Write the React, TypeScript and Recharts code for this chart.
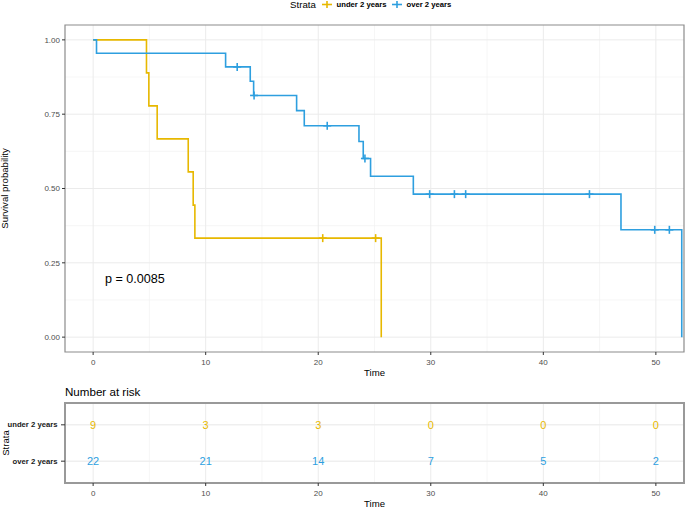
import React from "react";
import {
  ComposedChart,
  ScatterChart,
  Line,
  Scatter,
  XAxis,
  YAxis,
  CartesianGrid,
  ReferenceArea,
} from "recharts";

// Kaplan-Meier steps
const underTimes = [0, 4.74, 4.95, 5.69, 8.45, 8.89, 9.04, 25.6];
const underSurv = [1, 0.889, 0.778, 0.667, 0.556, 0.444, 0.333, 0];
const underCensorTimes = [20.4, 25.1];
const underCensorSurv = [0.333, 0.333];

const overTimes = [0, 0.3, 11.77, 13.96, 14.26, 18.08, 18.76, 23.62, 24.0, 24.65, 28.45, 46.9, 52.3];
const overSurv = [1, 0.955, 0.909, 0.861, 0.813, 0.762, 0.711, 0.658, 0.601, 0.541, 0.481, 0.361, 0];
const overCensorTimes = [12.8, 14.3, 20.8, 24.15, 29.9, 32.1, 33.1, 44.1, 49.9, 51.2];
const overCensorSurv = [0.909, 0.813, 0.711, 0.601, 0.481, 0.481, 0.481, 0.481, 0.361, 0.361];

// number at risk table
const riskTimes = [0, 10, 20, 30, 40, 50];
const riskUnder = [9, 3, 3, 0, 0, 0];
const riskOver = [22, 21, 14, 7, 5, 2];
const strataNames = ["over 2 years", "under 2 years"];

const timeTicks = [0, 10, 20, 30, 40, 50];
const timeMinor = [5, 15, 25, 35, 45];
const survTicks = [0, 0.25, 0.5, 0.75, 1];
const survMinor = [0.125, 0.375, 0.625, 0.875];

const YELLOW = "#E7B800";
const BLUE = "#2E9FDF";
const X_DOMAIN: [number, number] = [-2.5, 52.5];

const toPoints = (ts: number[], ss: number[]) => ts.map((t, i) => ({ t, s: ss[i] }));

const underCurve = toPoints(underTimes, underSurv);
const overCurve = toPoints(overTimes, overSurv);
const underCensor = toPoints(underCensorTimes, underCensorSurv);
const overCensor = toPoints(overCensorTimes, overCensorSurv);

const riskData = [
  ...riskTimes.map((t, i) => ({ t, row: 2, n: riskUnder[i], color: YELLOW })),
  ...riskTimes.map((t, i) => ({ t, row: 1, n: riskOver[i], color: BLUE })),
];

const plusShape = (color: string) => (props: any) => {
  const { cx, cy } = props;
  return (
    <g>
      <line x1={cx - 4} x2={cx + 4} y1={cy} y2={cy} stroke={color} strokeWidth={1.6} />
      <line x1={cx} x2={cx} y1={cy - 4} y2={cy + 4} stroke={color} strokeWidth={1.6} />
    </g>
  );
};

const riskText = (props: any) => {
  const { cx, cy, payload } = props;
  return (
    <text x={cx} y={cy} textAnchor="middle" dominantBaseline="central" fontSize={11} fill={payload.color}>
      {payload.n}
    </text>
  );
};

const strataTick = (props: any) => {
  const { x, y, payload } = props;
  return (
    <text
      x={x}
      y={y}
      textAnchor="end"
      dominantBaseline="central"
      fontSize={7.7}
      fontWeight="bold"
      fill="#1A1A1A"
    >
      {strataNames[payload.value - 1]}
    </text>
  );
};

const tickStyle = { fontSize: 8, fill: "#4D4D4D" };
const titleStyle = { fontSize: 9.6, fill: "#000" };

function LegendKey({ color }: { color: string }) {
  return (
    <svg width={10} height={9} style={{ display: "block" }}>
      <line x1={0} x2={10} y1={4.5} y2={4.5} stroke={color} strokeWidth={1.6} />
      <line x1={5} x2={5} y1={1} y2={8} stroke={color} strokeWidth={1.6} />
    </svg>
  );
}

export default function App() {
  const abs = (left: number, top: number): React.CSSProperties => ({
    position: "absolute",
    left,
    top,
    whiteSpace: "nowrap",
  });
  return (
    <div
      style={{
        position: "absolute",
        left: 0,
        top: 0,
        width: 685,
        height: 507,
        background: "#fff",
        fontFamily: "'Liberation Sans', Arial, sans-serif",
      }}
    >
      {/* legend */}
      <div style={{ ...abs(290, 0), fontSize: 9.7, lineHeight: "9px" }}>Strata</div>
      <div style={abs(322, 0)}>
        <LegendKey color={YELLOW} />
      </div>
      <div style={{ ...abs(336.5, 0), fontSize: 7.7, fontWeight: "bold", lineHeight: "9px" }}>under 2 years</div>
      <div style={abs(392, 0)}>
        <LegendKey color={BLUE} />
      </div>
      <div style={{ ...abs(406.5, 0), fontSize: 7.7, fontWeight: "bold", lineHeight: "9px" }}>over 2 years</div>

      <div style={abs(0, 0)}>
        <ComposedChart width={685} height={380} margin={{ top: 25, right: 1, bottom: 0, left: 0 }}>
          <CartesianGrid
            verticalValues={timeMinor}
            horizontalValues={survMinor}
            stroke="#F0F0F0"
            strokeWidth={0.6}
          />
          <CartesianGrid verticalValues={timeTicks} horizontalValues={survTicks} stroke="#EBEBEB" strokeWidth={1} />
          <XAxis
            dataKey="t"
            type="number"
            domain={X_DOMAIN}
            allowDataOverflow
            ticks={timeTicks}
            height={28}
            tick={tickStyle}
            tickSize={3}
            tickMargin={4}
            tickLine={{ stroke: "#333" }}
            axisLine={false}
            label={{ value: "Time", position: "insideBottom", offset: 4.5, style: titleStyle }}
          />
          <YAxis
            dataKey="s"
            type="number"
            domain={[-0.05, 1.05]}
            allowDataOverflow
            ticks={survTicks}
            tickFormatter={(v: number) => v.toFixed(2)}
            width={65}
            tick={tickStyle}
            tickSize={3}
            tickMargin={2}
            tickLine={{ stroke: "#333" }}
            axisLine={false}
            label={{
              value: "Survival probability",
              angle: -90,
              position: "insideLeft",
              offset: 5,
              style: { ...titleStyle, textAnchor: "middle" },
            }}
          />
          <Line
            data={underCurve}
            dataKey="s"
            type="stepAfter"
            stroke={YELLOW}
            strokeWidth={1.6}
            dot={false}
            isAnimationActive={false}
          />
          <Line
            data={overCurve}
            dataKey="s"
            type="stepAfter"
            stroke={BLUE}
            strokeWidth={1.6}
            dot={false}
            isAnimationActive={false}
          />
          <Scatter data={underCensor} dataKey="s" shape={plusShape(YELLOW)} isAnimationActive={false} />
          <Scatter data={overCensor} dataKey="s" shape={plusShape(BLUE)} isAnimationActive={false} />
          <ReferenceArea
            x1={X_DOMAIN[0]}
            x2={X_DOMAIN[1]}
            y1={-0.05}
            y2={1.05}
            fill="none"
            fillOpacity={0}
            stroke="#8C8C8C"
            strokeWidth={1.2}
          />
        </ComposedChart>
      </div>

      <div style={{ ...abs(105, 271), fontSize: 12.6, lineHeight: "16px", color: "#000" }}>p = 0.0085</div>

      <div style={{ ...abs(65, 385), fontSize: 11.6, lineHeight: "14px", color: "#000" }}>Number at risk</div>

      <div style={abs(0, 380)}>
        <ScatterChart width={685} height={127} margin={{ top: 23, right: 1, bottom: 0, left: 0 }}>
          <CartesianGrid verticalValues={timeMinor} horizontalValues={[]} stroke="#F0F0F0" strokeWidth={0.6} />
          <CartesianGrid verticalValues={timeTicks} horizontalValues={[1, 2]} stroke="#EBEBEB" strokeWidth={1} />
          <XAxis
            dataKey="t"
            type="number"
            domain={X_DOMAIN}
            allowDataOverflow
            ticks={timeTicks}
            height={24}
            tick={tickStyle}
            tickSize={3}
            tickMargin={4.5}
            tickLine={{ stroke: "#333" }}
            axisLine={false}
            label={{ value: "Time", position: "insideBottom", offset: 0.5, style: titleStyle }}
          />
          <YAxis
            dataKey="row"
            type="number"
            domain={[0.4, 2.6]}
            allowDataOverflow
            ticks={[1, 2]}
            width={65}
            tick={strataTick}
            tickSize={4}
            tickMargin={3.5}
            tickLine={{ stroke: "#333" }}
            axisLine={false}
            label={{
              value: "Strata",
              angle: -90,
              position: "insideLeft",
              offset: 5.5,
              style: { ...titleStyle, textAnchor: "middle" },
            }}
          />
          <Scatter data={riskData} dataKey="row" shape={riskText} isAnimationActive={false} />
          <ReferenceArea
            x1={X_DOMAIN[0]}
            x2={X_DOMAIN[1]}
            y1={0.4}
            y2={2.6}
            fill="none"
            fillOpacity={0}
            stroke="#999"
            strokeWidth={2}
          />
        </ScatterChart>
      </div>
    </div>
  );
}
